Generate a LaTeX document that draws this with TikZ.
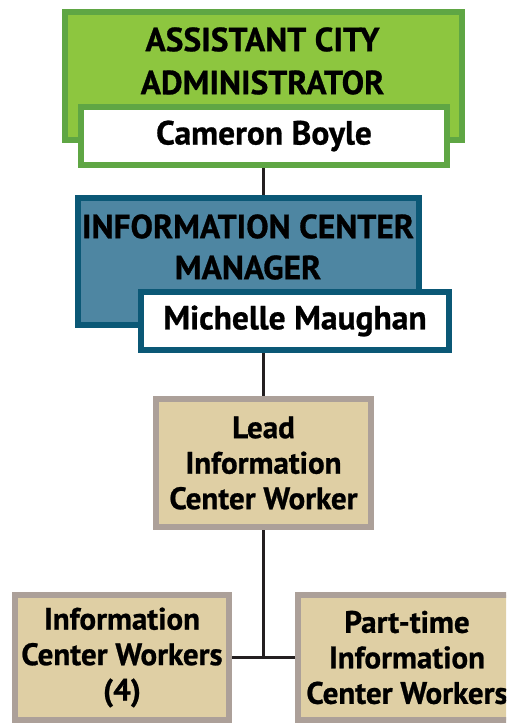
\documentclass[tikz,border=0pt]{standalone}
\usepackage{fontspec}
\setmainfont{PT Sans}[BoldFeatures={FakeBold=0.8}]
\definecolor{acagreen}{HTML}{8DC63F}
\definecolor{acagreenline}{HTML}{5FA644}
\definecolor{mgrblue}{HTML}{4E86A2}
\definecolor{mgrblueline}{HTML}{0B5876}
\definecolor{stafftan}{HTML}{DFCFA4}
\definecolor{stafftanline}{HTML}{ACA099}
\definecolor{linkgray}{HTML}{231F20}
\tikzset{
  head box/.style={
    rectangle, line width=6pt, inner sep=0pt
  },
  name box/.style={
    rectangle, line width=6pt, fill=white, inner sep=0pt,
    font=\fontsize{33.5}{38}\selectfont\bfseries
  },
  head text/.style={
    align=center, inner sep=0pt,
    font=\fontsize{33.5}{43}\selectfont\bfseries
  },
  staff box/.style={
    rectangle, draw=stafftanline, fill=stafftan, line width=6pt,
    inner sep=0pt, align=center,
    font=\fontsize{31}{35.5}\selectfont\bfseries
  },
  org link/.style={draw=linkgray, line width=2.8pt}
}

\begin{document}
\begin{tikzpicture}[x=1pt,y=-1pt]
    \useasboundingbox (0,0) rectangle (506,725);
    \clip (0,0) rectangle (506,725);
    % top level
    \node[head box, draw=acagreenline, fill=acagreen, minimum width=397pt, minimum height=128pt] (aca) at (263.5,76) {};
    \node[head text] (acatitle) at (262.5,61) {ASSISTANT CITY\\ADMINISTRATOR};
    \node[name box, draw=acagreenline, minimum width=366pt, minimum height=58pt] (cameron) at (264,136) {Cameron Boyle};
    % manager
    \node[head box, draw=mgrblueline, fill=mgrblue, minimum width=341pt, minimum height=127pt] (icm) at (248.5,261.5) {};
    \node[head text, font=\fontsize{33.5}{41}\selectfont\bfseries] (icmtitle) at (248,247) {INFORMATION CENTER\\MANAGER};
    \node[name box, draw=mgrblueline, minimum width=308pt, minimum height=58pt] (michelle) at (295,321) {Michelle Maughan};
    % staff
    \node[staff box, minimum width=215pt, minimum height=128pt] (lead) at (263.5,463) {Lead\\Information\\Center Worker};
    \node[staff box, minimum width=214pt, minimum height=125pt] (workers) at (122,657.5) {Information\\Center Workers\\(4)};
    \node[staff box, minimum width=218pt, minimum height=125pt] (parttime) at (407,657.5) {Part-time\\Information\\Center Workers};
    \draw[org link] (lead.north |- cameron.south) -- (lead.north |- icm.north);
    \draw[org link] (lead.north |- michelle.south) -- (lead.north);
    \draw[org link] (lead.south) -- (lead.south |- workers.east);
    \draw[org link] (workers.east) -- (parttime.west);
  \end{tikzpicture}
\end{document}
